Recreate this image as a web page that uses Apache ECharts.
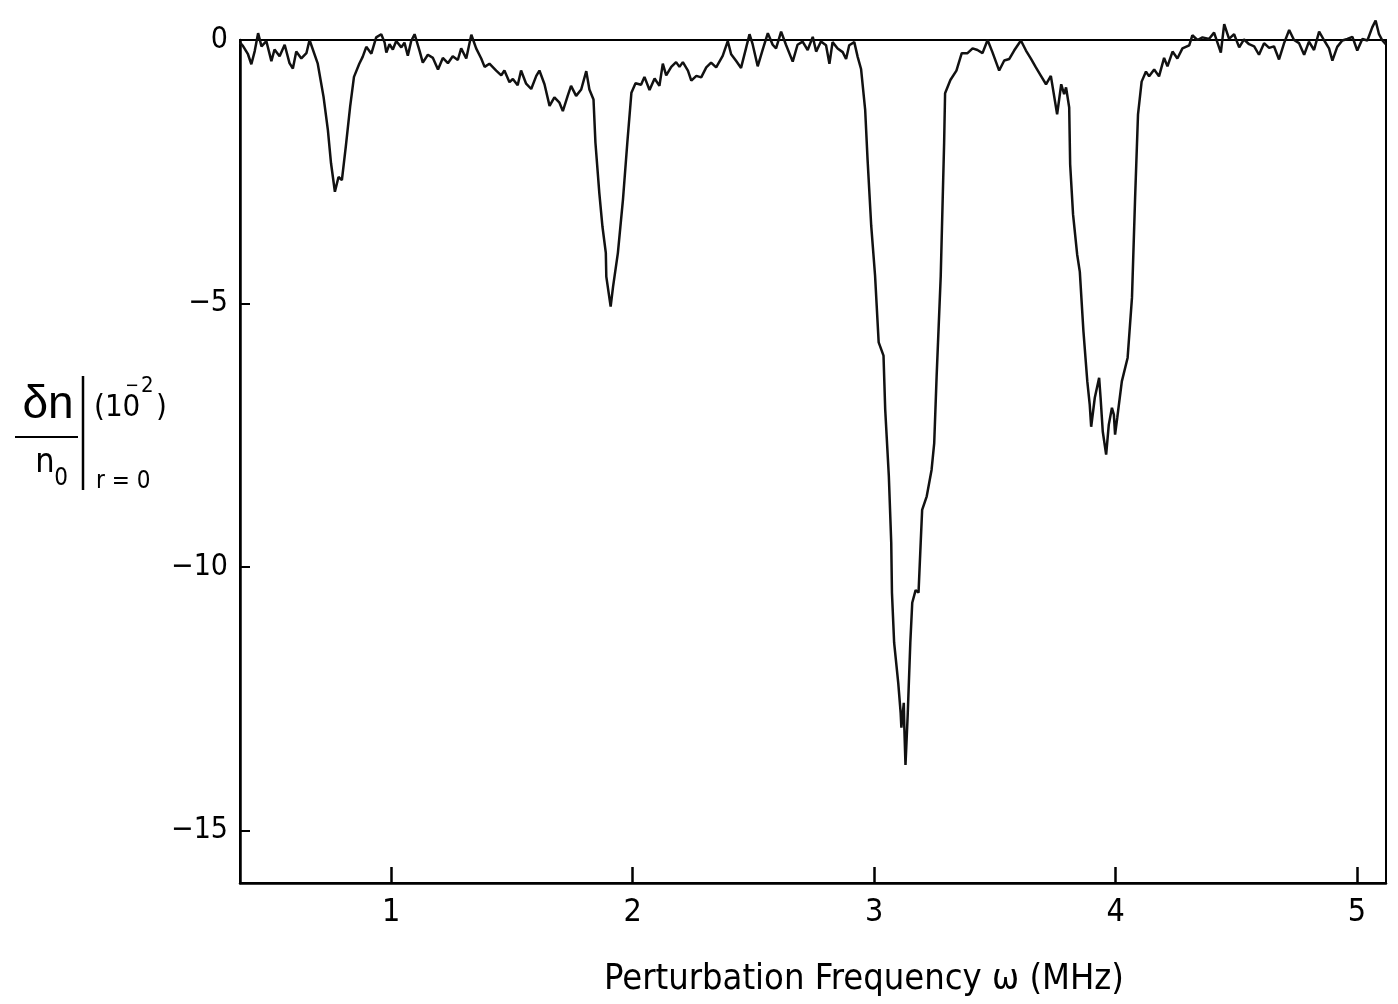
<!DOCTYPE html>
<html>
<head>
<meta charset="utf-8">
<script src="https://cdn.jsdelivr.net/npm/echarts@6/dist/echarts.min.js"></script>
<style>
html,body{margin:0;padding:0;background:#fff;}
#chart{width:1398px;height:1004px;}
</style>
</head>
<body>
<div id="chart"></div>
<script>
// Perturbation frequency (MHz)
const freqMHz = [
0.374,0.386,0.407,0.421,0.435,0.449,0.463,0.483,0.504,0.517,0.538,0.559,0.579,0.593,0.607,0.628,0.649,0.662,
0.696,0.720,0.738,0.751,0.767,0.782,0.796,0.812,0.830,0.846,0.868,0.882,0.897,0.918,0.938,0.959,0.973,0.980,
0.993,1.007,1.021,1.042,1.055,1.069,1.083,1.097,1.118,1.131,1.152,1.173,1.194,1.214,1.235,1.255,1.276,1.290,
1.311,1.332,1.352,1.373,1.387,1.407,1.435,1.456,1.469,1.490,1.504,1.524,1.538,1.559,1.580,1.601,1.614,1.635,
1.656,1.676,1.697,1.711,1.731,1.745,1.766,1.787,1.808,1.821,1.838,1.846,1.862,1.875,1.889,1.891,1.909,1.919,
1.939,1.960,1.978,1.995,2.012,2.035,2.049,2.070,2.091,2.111,2.125,2.139,2.160,2.180,2.194,2.208,2.229,2.243,
2.264,2.284,2.305,2.325,2.346,2.373,2.394,2.408,2.429,2.449,2.470,2.484,2.497,2.518,2.539,2.560,2.580,2.594,
2.615,2.635,2.663,2.683,2.704,2.725,2.746,2.760,2.780,2.801,2.815,2.828,2.849,2.870,2.884,2.897,2.918,2.932,
2.946,2.963,2.973,2.988,3.004,3.019,3.039,3.046,3.061,3.071,3.074,3.083,3.100,3.110,3.113,3.123,3.125,3.130,
3.139,3.150,3.158,3.172,3.184,3.193,3.199,3.218,3.238,3.249,3.259,3.276,3.290,3.294,3.316,3.341,3.363,3.387,
3.408,3.428,3.449,3.470,3.490,3.518,3.539,3.560,3.580,3.608,3.629,3.650,3.670,3.691,3.712,3.732,3.758,3.775,
3.787,3.795,3.808,3.812,3.824,3.841,3.852,3.867,3.883,3.893,3.899,3.914,3.932,3.938,3.947,3.961,3.972,3.985,
3.993,3.998,4.007,4.026,4.050,4.068,4.081,4.093,4.108,4.126,4.139,4.160,4.180,4.201,4.215,4.236,4.256,4.277,
4.305,4.318,4.339,4.360,4.387,4.408,4.436,4.450,4.470,4.491,4.512,4.532,4.553,4.574,4.594,4.615,4.636,4.656,
4.677,4.698,4.719,4.739,4.760,4.781,4.801,4.822,4.843,4.863,4.884,4.898,4.918,4.939,4.960,4.981,5.001,5.022,
5.043,5.063,5.077,5.091,5.105,5.119
];
// delta n / n0 at r=0 (units of 1e-2)
const deltaN = [
-0.05,-0.11,-0.27,-0.46,-0.21,0.13,-0.12,-0.02,-0.40,-0.18,-0.31,-0.09,-0.44,-0.54,-0.22,-0.35,-0.25,0.00,
-0.45,-1.08,-1.71,-2.34,-2.88,-2.60,-2.66,-2.03,-1.27,-0.70,-0.45,-0.32,-0.13,-0.26,0.05,0.11,-0.05,-0.24,
-0.08,-0.18,-0.02,-0.14,-0.05,-0.30,-0.02,0.11,-0.21,-0.43,-0.28,-0.34,-0.56,-0.34,-0.44,-0.31,-0.38,-0.16,
-0.35,0.10,-0.16,-0.35,-0.51,-0.45,-0.58,-0.67,-0.58,-0.80,-0.74,-0.86,-0.58,-0.83,-0.93,-0.68,-0.58,-0.84,
-1.25,-1.09,-1.19,-1.35,-1.06,-0.87,-1.06,-0.94,-0.59,-0.94,-1.13,-1.95,-2.90,-3.54,-4.04,-4.49,-5.06,-4.68,
-4.04,-3.03,-1.95,-1.00,-0.82,-0.85,-0.70,-0.95,-0.73,-0.87,-0.45,-0.67,-0.51,-0.42,-0.51,-0.42,-0.58,-0.77,
-0.68,-0.71,-0.52,-0.43,-0.52,-0.30,-0.02,-0.27,-0.40,-0.53,-0.15,0.11,-0.08,-0.50,-0.18,0.13,-0.09,-0.16,
0.16,-0.09,-0.41,-0.09,-0.03,-0.19,0.06,-0.22,-0.03,-0.10,-0.45,-0.04,-0.16,-0.23,-0.36,-0.10,-0.04,-0.32,
-0.55,-1.32,-2.27,-3.52,-4.47,-5.74,-5.99,-7.01,-8.27,-9.54,-10.49,-11.44,-12.20,-12.77,-13.05,-12.58,-13.02,-13.76,
-12.83,-11.44,-10.68,-10.44,-10.49,-9.54,-8.92,-8.66,-8.16,-7.65,-6.38,-4.48,-1.96,-1.01,-0.76,-0.58,-0.25,-0.25,
-0.16,-0.19,-0.25,0.00,-0.23,-0.58,-0.39,-0.36,-0.20,-0.01,-0.20,-0.36,-0.52,-0.68,-0.84,-0.68,-1.41,-0.84,
-1.03,-0.90,-1.28,-2.36,-3.31,-4.07,-4.40,-5.53,-6.48,-6.92,-7.34,-6.79,-6.41,-6.79,-7.43,-7.87,-7.30,-6.98,
-7.11,-7.49,-7.17,-6.48,-6.03,-4.89,-2.99,-1.41,-0.79,-0.60,-0.69,-0.56,-0.69,-0.34,-0.50,-0.22,-0.35,-0.16,
-0.10,0.09,0.00,0.05,0.02,0.14,-0.24,0.30,0.02,0.11,-0.14,0.01,-0.08,-0.12,-0.28,-0.06,-0.15,-0.12,
-0.37,-0.06,0.19,0.00,-0.06,-0.28,-0.03,-0.19,0.16,0.00,-0.16,-0.39,-0.13,-0.01,0.02,0.06,-0.20,0.02,
-0.01,0.24,0.37,0.11,-0.01,-0.08
];
const xTicks = [1, 2, 3, 4, 5];
const yTicks = [0, -5, -10, -15];

const NARROW = "'Liberation Sans Narrow','DejaVu Sans Condensed','Arial Narrow',sans-serif";
const REG = "'Liberation Sans','DejaVu Sans',sans-serif";

const data = freqMHz.map((f, i) => [f, deltaN[i]]);

const chart = echarts.init(document.getElementById('chart'), null, {renderer: 'canvas'});

function txt(x, y, text, font, align) {
  return {
    type: 'text', x: x, y: y, silent: true,
    style: {text: text, font: font, fill: '#000',
      textAlign: align || 'center', textVerticalAlign: 'middle',
      align: align || 'center', verticalAlign: 'middle'}
  };
}

chart.setOption({
  backgroundColor: '#fff',
  animation: false,
  grid: {left: 240, right: 12, top: 40, bottom: 121, show: true,
         borderColor: '#000', borderWidth: 2, backgroundColor: 'transparent'},
  xAxis: {
    type: 'value', min: 0.374, max: 5.12,
    axisLine: {show: true, onZero: false, lineStyle: {color: '#000', width: 2.5}},
    axisTick: {show: true, inside: true, length: 16, customValues: xTicks,
               lineStyle: {color: '#000', width: 2.5}},
    axisLabel: {show: true, customValues: xTicks, margin: 14, color: '#000',
                fontFamily: NARROW, fontSize: 32,
                formatter: v => String(v)},
    splitLine: {show: false}
  },
  yAxis: {
    type: 'value', min: -16, max: 0,
    axisLine: {show: true, onZero: false, lineStyle: {color: '#000', width: 2.5}},
    axisTick: {show: true, inside: true, length: 10, customValues: yTicks,
               lineStyle: {color: '#000', width: 2}},
    axisLabel: {show: true, customValues: yTicks, margin: 12, color: '#000',
                fontFamily: NARROW, fontSize: 30,
                formatter: v => (v < 0 ? '\u2212' + Math.abs(v) : String(v))},
    splitLine: {show: false}
  },
  series: [{
    type: 'line', data: data, showSymbol: false, clip: false,
    lineStyle: {color: '#111', width: 2.5}, z: 5
  }],
  graphic: [
    txt(48, 405, 'δn', '46px ' + REG),
    {type: 'line', silent: true, shape: {x1: 15, y1: 437, x2: 78, y2: 437},
     style: {stroke: '#000', lineWidth: 2}},
    txt(45, 463, 'n', '34px ' + NARROW),
    txt(61, 479, '0', '24px ' + NARROW),
    {type: 'line', silent: true, shape: {x1: 83, y1: 376, x2: 83, y2: 490},
     style: {stroke: '#000', lineWidth: 2.5}},
    txt(94, 408, '(10', '31px ' + NARROW, 'left'),
    txt(132, 386, '\u2212', '18px ' + NARROW),
    txt(141, 386, '2', '22px ' + NARROW, 'left'),
    txt(156, 408, ')', '31px ' + NARROW, 'left'),
    txt(96, 482, 'r = 0', '24px ' + NARROW, 'left'),
    txt(864, 980, 'Perturbation Frequency ω (MHz)', '36px ' + NARROW)
  ]
});
</script>
</body>
</html>
